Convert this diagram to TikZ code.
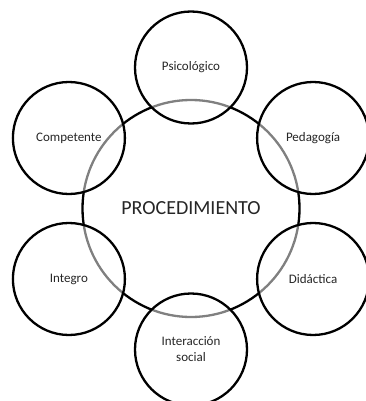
\documentclass[tikz,border=0pt]{standalone}
\usepackage{fontspec}
\setmainfont{Carlito}
\begin{document}
\begin{tikzpicture}[x=1pt,y=-1pt,
  hub/.style={circle,draw=black,line width=2.3pt,fill=white,minimum size=217pt,inner sep=0pt,
    font=\fontsize{20}{24}\selectfont,text=black!85},
  petal/.style={circle,draw=black,line width=2.3pt,fill=white,fill opacity=0.5,text opacity=1,
    minimum size=112pt,inner sep=0pt,align=center,font=\fontsize{13}{16}\selectfont,text=black!85}]
\useasboundingbox (0,0) rectangle (366,401);
\node[hub] (c) at (191,208.5) {PROCEDIMIENTO};
\node[petal] (psi) at (191,67.5) {Psicológico};
\node[petal] (ped) at (313.1,138) {Pedagogía};
\node[petal] (did) at (313.1,279) {Didáctica};
\node[petal] (int) at (191,349.5) {Interacción\\social};
\node[petal] (integ) at (68.9,279) {Integro};
\node[petal] (comp) at (68.9,138) {Competente};
\end{tikzpicture}
\end{document}
